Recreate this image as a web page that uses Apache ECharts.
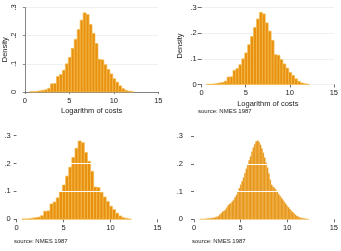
<!DOCTYPE html>
<html lang="en">
<head>
    <meta charset="UTF-8">
    <title>Log costs histograms</title>
    <script src="https://cdn.jsdelivr.net/npm/echarts@6/dist/echarts.min.js"></script>
</head>
<body style="margin: 0">
<div id="chart" style="width: 341px; height: 251px"></div>
<script>
    // histogram A: bins of width 1/3 (panels 1-3)
    let binStartA = 0.55;
    let binWidthA = 1 / 3;
    let densityA = [0.001, 0.001, 0.002, 0.004, 0.006, 0.008, 0.013, 0.029, 0.030, 0.055,
        0.062, 0.077, 0.100, 0.123, 0.155, 0.187, 0.222, 0.255, 0.281, 0.275,
        0.240, 0.208, 0.172, 0.116, 0.114, 0.097, 0.080, 0.064, 0.047, 0.035,
        0.022, 0.012, 0.006, 0.003, 0.001];

    // histogram B: finer bins (panel 4)
    let binStartB = 0.6;
    let binWidthB = 0.15;
    let densityB = [0.001, 0.000, 0.001, 0.001, 0.002, 0.002, 0.003, 0.003, 0.004, 0.005,
        0.006, 0.007, 0.009, 0.011, 0.016, 0.021, 0.027, 0.030, 0.034, 0.042,
        0.050, 0.055, 0.058, 0.064, 0.070, 0.079, 0.088, 0.099, 0.112, 0.124,
        0.137, 0.150, 0.166, 0.182, 0.198, 0.212, 0.226, 0.243, 0.258, 0.270,
        0.280, 0.283, 0.278, 0.268, 0.255, 0.240, 0.222, 0.204, 0.186, 0.165,
        0.142, 0.124, 0.117, 0.113, 0.106, 0.099, 0.091, 0.084, 0.077, 0.070,
        0.063, 0.056, 0.049, 0.043, 0.037, 0.031, 0.026, 0.021, 0.016, 0.012,
        0.009, 0.007, 0.005, 0.004, 0.003, 0.002, 0.001, 0.001];

    let xTicks = [0, 5, 10, 15];
    let yTickLabels = {0: '0', 0.1: '.1', 0.2: '.2', 0.3: '.3'};
    let xTitle = 'Logarithm of costs';
    let yTitle = 'Density';
    let sourceNote = 'source: NMES 1987';

    function toBins(start, width, dens) {
        let out = [];
        for (let i = 0; i < dens.length; i++) {
            out.push([start + i * width, start + (i + 1) * width, dens[i]]);
        }
        return out;
    }

    const FONT = 'Liberation Sans, Arial, sans-serif';
    const TXT = '#222';

    function yLabel(v) {
        let k = Math.round(v * 10) / 10;
        return yTickLabels[k] !== undefined ? yTickLabels[k] : '';
    }

    function histSeries(idx, bins, fill, stroke, lw, whiteGrid) {
        let s = {
            type: 'custom',
            xAxisIndex: idx,
            yAxisIndex: idx,
            data: bins,
            encode: {x: [0, 1], y: 2},
            renderItem: function (params, api) {
                let p0 = api.coord([api.value(0), api.value(2)]);
                let p1 = api.coord([api.value(1), 0]);
                return {
                    type: 'rect',
                    shape: {x: p0[0], y: p0[1], width: p1[0] - p0[0], height: p1[1] - p0[1]},
                    style: {fill: fill, stroke: stroke, lineWidth: lw}
                };
            }
        };
        if (whiteGrid) {
            s.markLine = {
                silent: true,
                symbol: 'none',
                z: 10,
                label: {show: false},
                lineStyle: {color: '#ffffff', width: 1.2, type: 'solid'},
                data: [{yAxis: 0.1}, {yAxis: 0.2}, {yAxis: 0.3}]
            };
        }
        return s;
    }

    function xAx(idx, opts) {
        return Object.assign({
            gridIndex: idx, type: 'value', min: 0, max: 15, interval: 5,
            splitLine: {show: false},
            axisLine: {show: false},
            axisTick: {show: true, length: 3, lineStyle: {color: '#444', width: 0.8}},
            axisLabel: {fontSize: 7.5, color: TXT, fontFamily: FONT, margin: 1.5}
        }, opts);
    }

    function yAx(idx, opts) {
        return Object.assign({
            gridIndex: idx, type: 'value', min: 0, max: 0.3, interval: 0.1,
            splitLine: {show: false},
            axisLine: {show: false},
            axisTick: {show: true, length: 3, lineStyle: {color: '#444', width: 0.8}},
            axisLabel: {fontSize: 7.5, color: TXT, fontFamily: FONT, margin: 2, formatter: yLabel}
        }, opts);
    }

    let lightGrid = {show: true, lineStyle: {color: '#E8EEF0', width: 0.8}};
    let nameStyle = {fontSize: 7.5, color: TXT, fontFamily: FONT};

    let chart = echarts.init(document.getElementById('chart'));
    let option = {
        animation: false,
        backgroundColor: '#ffffff',
        grid: [
            {left: 22.3, top: 7.5, width: 136, height: 84.5},
            {left: 201.7, top: 7.5, width: 133.3, height: 77},
            {left: 16.7, top: 135.7, width: 140.6, height: 83.6},
            {left: 194, top: 136, width: 141.7, height: 83.3}
        ],
        xAxis: [
            xAx(0, {
                offset: 4,
                axisLine: {show: true, lineStyle: {color: '#666', width: 0.8}},
                axisTick: {show: true, length: 2, lineStyle: {color: '#666', width: 0.8}},
                axisLabel: {fontSize: 7.5, color: TXT, fontFamily: FONT, margin: 1},
                name: xTitle, nameLocation: 'middle', nameGap: 11, nameTextStyle: nameStyle
            }),
            xAx(1, {
                offset: 3,
                name: xTitle, nameLocation: 'middle', nameGap: 12, nameTextStyle: nameStyle
            }),
            xAx(2, {offset: 3}),
            xAx(3, {offset: 3})
        ],
        yAxis: [
            yAx(0, {
                offset: 5,
                splitLine: lightGrid,
                axisLine: {show: true, lineStyle: {color: '#666', width: 0.8}},
                axisTick: {show: true, length: 2, lineStyle: {color: '#666', width: 0.8}},
                axisLabel: {fontSize: 7.5, color: TXT, fontFamily: FONT, margin: 2, rotate: 90, formatter: yLabel},
                name: yTitle, nameLocation: 'middle', nameRotate: 90, nameGap: 9, nameTextStyle: nameStyle
            }),
            yAx(1, {
                offset: 2,
                splitLine: lightGrid,
                axisTick: {show: true, length: 4, lineStyle: {color: '#444', width: 0.8}},
                axisLabel: {fontSize: 7.5, color: TXT, fontFamily: FONT, margin: 3, formatter: yLabel},
                name: yTitle, nameLocation: 'middle', nameRotate: 90, nameGap: 16, nameTextStyle: nameStyle
            }),
            yAx(2, {offset: 4}),
            yAx(3, {offset: 9})
        ],
        series: [
            histSeries(0, toBins(binStartA, binWidthA, densityA), '#E8900F', '#F5BD4F', 0.7, false),
            histSeries(1, toBins(binStartA, binWidthA, densityA), '#E8900F', '#F5BD4F', 0.7, false),
            histSeries(2, toBins(binStartA, binWidthA, densityA), '#E8900F', '#F5BD4F', 0.7, true),
            histSeries(3, toBins(binStartB, binWidthB, densityB), '#E2890A', '#F4BE50', 0.4, true)
        ],
        graphic: [
            {type: 'text', left: 198, top: 108, style: {text: sourceNote, fontSize: 6, fill: TXT, fontFamily: FONT}},
            {type: 'text', left: 14, top: 238, style: {text: sourceNote, fontSize: 6, fill: TXT, fontFamily: FONT}},
            {type: 'text', left: 192, top: 238, style: {text: sourceNote, fontSize: 6, fill: TXT, fontFamily: FONT}}
        ]
    };
    chart.setOption(option);
</script>
</body>
</html>
